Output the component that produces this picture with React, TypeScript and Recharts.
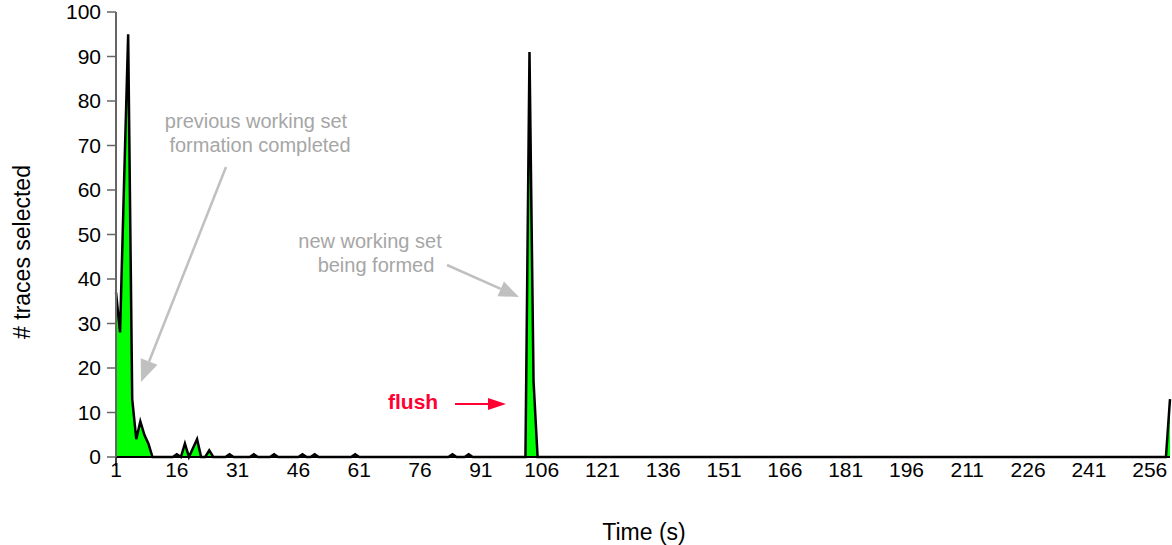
import React from 'react';
import { AreaChart, Area, XAxis, YAxis, Customized } from 'recharts';

// Time categories (s)
const timeSeconds: number[] = [];
for (let i = 1; i <= 261; i++) timeSeconds.push(i);

// # traces selected, one value per second
const tracesSelected: number[] = [
  37, 28, 62, 95, 13, 4, 8, 5, 3, 0, 0, 0, 0, 0, 0,
  0.6, 0, 3, 0, 2, 4, 0, 0, 1.5, 0, 0, 0, 0, 0.6, 0,
  0, 0, 0, 0, 0.6, 0, 0, 0, 0, 0.6, 0, 0, 0, 0, 0,
  0, 0.6, 0, 0, 0.6, 0, 0, 0, 0, 0, 0, 0, 0, 0, 0.6,
  0, 0, 0, 0, 0, 0, 0, 0, 0, 0, 0, 0, 0, 0, 0,
  0, 0, 0, 0, 0, 0, 0, 0, 0.6, 0, 0, 0, 0.6, 0, 0,
  0, 0, 0, 0, 0, 0, 0, 0, 0, 0, 0, 0, 91, 17, 0,
  0, 0, 0, 0, 0, 0, 0, 0, 0, 0, 0, 0, 0, 0, 0,
  0, 0, 0, 0, 0, 0, 0, 0, 0, 0, 0, 0, 0, 0, 0,
  0, 0, 0, 0, 0, 0, 0, 0, 0, 0, 0, 0, 0, 0, 0,
  0, 0, 0, 0, 0, 0, 0, 0, 0, 0, 0, 0, 0, 0, 0,
  0, 0, 0, 0, 0, 0, 0, 0, 0, 0, 0, 0, 0, 0, 0,
  0, 0, 0, 0, 0, 0, 0, 0, 0, 0, 0, 0, 0, 0, 0,
  0, 0, 0, 0, 0, 0, 0, 0, 0, 0, 0, 0, 0, 0, 0,
  0, 0, 0, 0, 0, 0, 0, 0, 0, 0, 0, 0, 0, 0, 0,
  0, 0, 0, 0, 0, 0, 0, 0, 0, 0, 0, 0, 0, 0, 0,
  0, 0, 0, 0, 0, 0, 0, 0, 0, 0, 0, 0, 0, 0, 0,
  0, 0, 0, 0, 0, 13,
];

const xTicks: number[] = [1, 16, 31, 46, 61, 76, 91, 106, 121, 136, 151, 166, 181, 196, 211, 226, 241, 256];
const yTicks: number[] = [0, 10, 20, 30, 40, 50, 60, 70, 80, 90, 100];

const data = timeSeconds.map((t, i) => ({ t, v: tracesSelected[i] }));

const FONT = '"Liberation Sans", Arial, sans-serif';
const GRAY_TEXT = '#A6A6A6';
const GRAY_ARROW = '#C0C0C0';
const RED = '#FF0033';

function Arrow({ x1, y1, x2, y2, color, width, headLen, headHalf }: any) {
  const dx = x2 - x1;
  const dy = y2 - y1;
  const len = Math.sqrt(dx * dx + dy * dy);
  const ux = dx / len;
  const uy = dy / len;
  const bx = x2 - ux * headLen;
  const by = y2 - uy * headLen;
  const px = -uy;
  const py = ux;
  const pts = `${x2},${y2} ${bx + px * headHalf},${by + py * headHalf} ${bx - px * headHalf},${by - py * headHalf}`;
  return (
    <g>
      <line x1={x1} y1={y1} x2={bx} y2={by} stroke={color} strokeWidth={width} />
      <polygon points={pts} fill={color} />
    </g>
  );
}

function Annotations() {
  return (
    <g style={{ fontFamily: FONT }}>
      <text x={22} y={252} transform="rotate(-90 22 252)" textAnchor="middle" dominantBaseline="central" fontSize={23} fill="#000">
        # traces selected
      </text>
      <text x={644} y={540} textAnchor="middle" fontSize={23} fill="#000">
        Time (s)
      </text>
      <line x1={116} y1={457} x2={116} y2={466} stroke="#000" strokeWidth={1.5} />

      <text x={256} y={128} textAnchor="middle" fontSize={20} fill={GRAY_TEXT}>previous working set</text>
      <text x={260} y={152} textAnchor="middle" fontSize={20} fill={GRAY_TEXT}>formation completed</text>
      <Arrow x1={226} y1={167} x2={141} y2={382} color={GRAY_ARROW} width={2.5} headLen={22} headHalf={9} />

      <text x={370} y={248} textAnchor="middle" fontSize={20} fill={GRAY_TEXT}>new working set</text>
      <text x={376} y={272} textAnchor="middle" fontSize={20} fill={GRAY_TEXT}>being formed</text>
      <Arrow x1={447} y1={265} x2={519} y2={297} color={GRAY_ARROW} width={2.5} headLen={20} headHalf={8} />

      <text x={388} y={409} textAnchor="start" fontSize={21} fontWeight="bold" fill={RED}>flush</text>
      <Arrow x1={455} y1={404} x2={506} y2={404} color={RED} width={2} headLen={18} headHalf={6} />
    </g>
  );
}

export default function App() {
  return (
    <div style={{ position: 'absolute', left: 0, top: 0, width: 1172, height: 545, background: '#fff', fontFamily: FONT }}>
      <AreaChart width={1172} height={545} data={data} margin={{ top: 12, right: 2, bottom: 0, left: 0 }}>
        <XAxis
          dataKey="t"
          type="category"
          ticks={xTicks}
          interval={0}
          height={88}
          tickLine={false}
          tickSize={0}
          tickMargin={5}
          axisLine={{ stroke: '#000', strokeWidth: 2 }}
          tick={{ fill: '#000', fontSize: 21, fontFamily: FONT }}
        />
        <XAxis xAxisId="top" dataKey="t" orientation="top" height={0} tick={false} tickLine={false} axisLine={{ stroke: '#8C8C8C', strokeWidth: 2 }} />
        <YAxis
          domain={[0, 100]}
          ticks={yTicks}
          interval={0}
          width={116}
          tickSize={9}
          tickMargin={6}
          tickLine={{ stroke: '#666', strokeWidth: 1.5 }}
          axisLine={{ stroke: '#666', strokeWidth: 2 }}
          tick={{ fill: '#000', fontSize: 21, fontFamily: FONT }}
        />
        <YAxis yAxisId="right" orientation="right" width={0} domain={[0, 100]} tick={false} tickLine={false} axisLine={{ stroke: '#8C8C8C', strokeWidth: 2 }} />
        <Area
          type="linear"
          dataKey="v"
          stroke="#000"
          strokeWidth={2.5}
          fill="#00FF00"
          fillOpacity={1}
          isAnimationActive={false}
          dot={false}
          activeDot={false}
        />
        <Customized component={Annotations} />
      </AreaChart>
    </div>
  );
}
